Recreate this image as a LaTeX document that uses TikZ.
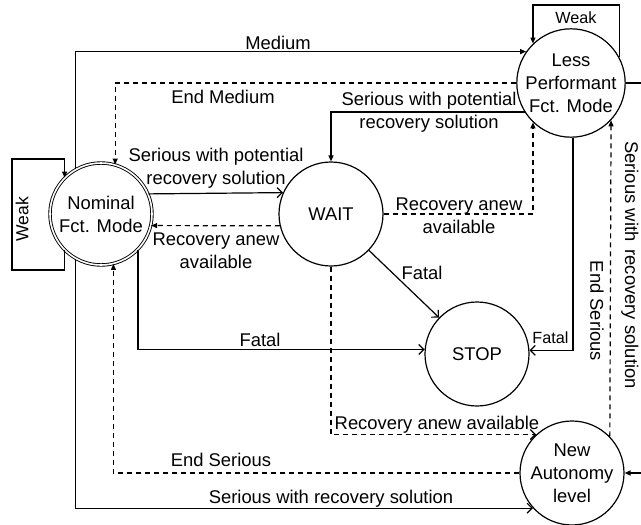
\documentclass[tikz,border=0pt]{standalone}
\usepackage{fontspec}
\setmainfont{Liberation Sans}
\usetikzlibrary{arrows.meta}
\begin{document}
\begin{tikzpicture}[x=1pt,y=-1pt,
  every node/.style={font=\fontsize{18.4}{23}\selectfont},
  state/.style={circle, draw, line width=1.2pt, minimum size=104pt, inner sep=0pt, align=center},
  conn/.style={line width=1.2pt},
  dshd/.style={conn, dash pattern=on 5pt off 4pt},
  oa/.style={-{Straight Barb[length=5pt,width=10pt,line width=1.2pt]}},
  fa/.style={-{Triangle[length=6pt,width=5pt]}},
  lbl/.style={align=center, inner sep=0pt},
  smalllbl/.style={font=\fontsize{16.2}{19}\selectfont, inner sep=0pt}
]
\useasboundingbox (0,0) rectangle (641,525);

% states
\node[state, double, double distance=1.6pt, line width=0.9pt, minimum size=102pt] (nom) at (101,214) {Nominal\\Fct. Mode};
\node[state] (wait) at (331,214) {WAIT};
\node[state] (stop) at (477,354) {STOP};
\node[state] (lp) at (571,83) {Less\\Performant\\Fct. Mode};
\node[state] (na) at (572,473) {New\\Autonomy\\level};

% helper coordinates
\coordinate (wl) at (12,270);
\coordinate (wt) at (nom.135 |- 0,159);
\coordinate (lw) at (0,5);
\coordinate (rx) at (652,0);

% Nominal self loop
\draw[conn,fa] (nom.225) |- (wl) |- (wt) -- (nom.135);
\node[lbl, rotate=90, font=\fontsize{17.5}{21}\selectfont] (lweak) at (22,219) {Weak};

% Less performant self loop
\draw[conn,fa] (lp.28) |- (lp.134 |- lw) -- (lp.134);
\node[smalllbl] (tweak) at (576,18) {Weak};

% Medium
\draw[conn,fa] (nom.120) |- (lp.145);
\node[lbl] (lmed) at (278,43) {Medium};

% End Medium
\draw[dshd,fa] (lp.west) -| (nom.74.4);
\node[lbl] (lendmed) at (223,97) {End Medium};

% Nominal -> WAIT
\draw[conn,oa] (nom.23.8) -- (wait.156.2);
\node[lbl] (l1) at (216,168) {Serious with potential\\recovery solution};

% WAIT -> Nominal
\draw[dshd,fa] (wait.193.3) -- (nom.-13.3);
\node[lbl] (l2) at (216,251) {Recovery anew\\available};

% LP -> WAIT
\draw[conn,fa] (lp.212.6) -| (wait.north);
\node[lbl] (l3) at (429,112) {Serious with potential\\recovery solution};

% WAIT -> LP
\draw[dshd,fa] (wait.east) -| (lp.226.2);
\node[lbl] (l4) at (459,216) {Recovery anew\\available};

% WAIT -> STOP
\draw[conn,oa] (wait) -- (stop);
\node[lbl] (l5) at (422,273) {Fatal};

% Nominal -> STOP
\draw[conn,oa] (nom.-44.6) |- (stop.175.6);
\node[lbl] (l6) at (260,340) {Fatal};

% LP -> STOP
\draw[conn,oa] (lp.-88) |- (stop.4.4);
\node[smalllbl] (l7) at (550.5,338) {Fatal};

% WAIT -> New Autonomy
\draw[dshd,oa] (wait.south) |- (na.133);
\node[lbl] (l8) at (437,425) {Recovery anew available};

% New Autonomy -> LP (End Serious)
\draw[dshd,fa] (na.44.6) -- (lp.-43);
\node[lbl, rotate=-90] (l9) at (597,311) {End Serious};

% LP -> New Autonomy (right)
\draw[conn,fa] (lp.east) -- (lp.east -| rx) |- (na.east);
\node[lbl, rotate=-90] (l10) at (630,265) {Serious with\, recovery solution};

% New Autonomy -> Nominal (End Serious)
\draw[dshd,fa] (na.west) -| (nom.-76.6);
\node[lbl] (l11) at (221,460) {End Serious};

% Nominal -> New Autonomy
\draw[conn,oa] (nom.-120) |- (na.222.3);
\node[lbl] (l12) at (331,499) {Serious with recovery solution};
\end{tikzpicture}
\end{document}
